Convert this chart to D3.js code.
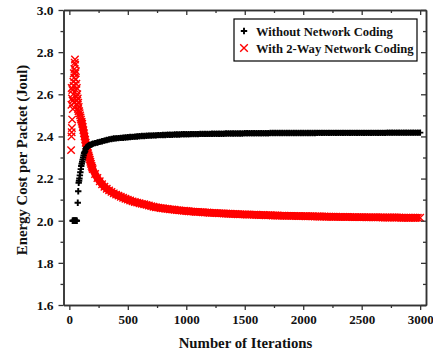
<!DOCTYPE html>
<html>
<head>
<meta charset="utf-8">
<script src="https://cdn.jsdelivr.net/npm/d3@7"></script>
<style>
  body { margin: 0; background: #fff; }
  text { font-family: "Liberation Serif", "Times New Roman", serif; font-weight: bold; }
</style>
</head>
<body>
<div id="chart"></div>
<script>
// Chart size
const width = 433;
const height = 356;

// Data
const xTicks = [0, 500, 1000, 1500, 2000, 2500, 3000];
const yTicks = [1.6, 1.8, 2.0, 2.2, 2.4, 2.6, 2.8, 3.0];

// Without network coding: first iterations as [iteration, cost]
const plainEarly = [
  [28, 2.0], [32, 2.0], [36, 2.0], [40, 2.0], [44, 2.0], [48, 2.0], [52, 2.0], [56, 2.0], [60, 2.0], [64, 2.0],
  [72, 2.085], [76, 2.14], [80, 2.18], [83, 2.19], [86, 2.20], [90, 2.215], [94, 2.23],
  [98, 2.245], [102, 2.26], [106, 2.27], [110, 2.28], [114, 2.29], [118, 2.30], [122, 2.31],
  [126, 2.32], [130, 2.325], [135, 2.33], [140, 2.34], [145, 2.345], [150, 2.35],
  [160, 2.355], [170, 2.358], [180, 2.36], [190, 2.362]
];

// With 2-way network coding: first iterations as [iteration, cost]
const codedEarly = [
  [15, 2.335], [18, 2.40], [20, 2.42], [22, 2.44], [24, 2.48], [18, 2.55], [22, 2.58],
  [26, 2.62], [20, 2.63], [28, 2.57], [30, 2.53], [32, 2.60], [34, 2.66], [36, 2.64],
  [38, 2.70], [40, 2.56], [42, 2.68], [44, 2.72], [46, 2.75], [48, 2.765], [50, 2.74],
  [52, 2.70], [54, 2.67], [56, 2.71], [58, 2.62], [60, 2.65], [62, 2.59], [64, 2.63],
  [66, 2.57], [68, 2.60], [70, 2.55], [72, 2.58], [74, 2.53], [76, 2.56], [78, 2.52],
  [80, 2.54], [84, 2.52], [88, 2.51], [92, 2.50], [96, 2.49], [100, 2.48], [105, 2.47],
  [110, 2.46], [115, 2.445], [120, 2.43], [125, 2.415], [130, 2.40], [135, 2.385],
  [140, 2.37], [145, 2.357], [150, 2.345], [155, 2.332], [160, 2.32], [165, 2.31],
  [170, 2.30], [175, 2.29], [180, 2.28], [185, 2.27], [190, 2.26], [195, 2.252]
];

// Later iterations, one reading every 20 iterations from 200 to 3000
const tailIterations = [
  200, 220, 240, 260, 280, 300, 320, 340, 360, 380, 400, 420, 440, 460, 480,
  500, 520, 540, 560, 580, 600, 620, 640, 660, 680, 700, 720, 740, 760, 780,
  800, 820, 840, 860, 880, 900, 920, 940, 960, 980, 1000,
  1020, 1040, 1060, 1080, 1100, 1120, 1140, 1160, 1180, 1200,
  1220, 1240, 1260, 1280, 1300, 1320, 1340, 1360, 1380, 1400,
  1420, 1440, 1460, 1480, 1500, 1520, 1540, 1560, 1580, 1600,
  1620, 1640, 1660, 1680, 1700, 1720, 1740, 1760, 1780, 1800,
  1820, 1840, 1860, 1880, 1900, 1920, 1940, 1960, 1980, 2000,
  2020, 2040, 2060, 2080, 2100, 2120, 2140, 2160, 2180, 2200,
  2220, 2240, 2260, 2280, 2300, 2320, 2340, 2360, 2380, 2400,
  2420, 2440, 2460, 2480, 2500, 2520, 2540, 2560, 2580, 2600,
  2620, 2640, 2660, 2680, 2700, 2720, 2740, 2760, 2780, 2800,
  2820, 2840, 2860, 2880, 2900, 2920, 2940, 2960, 2980, 3000
];

const plainTail = [
  2.365, 2.368, 2.371, 2.374, 2.377, 2.380, 2.383, 2.386, 2.388, 2.390, 2.391, 2.392, 2.393, 2.394, 2.395,
  2.396, 2.397, 2.398, 2.399, 2.400, 2.401, 2.402, 2.402, 2.403, 2.404, 2.404, 2.405, 2.405, 2.406, 2.406,
  2.407, 2.407, 2.408, 2.408, 2.408, 2.409, 2.409, 2.409, 2.410, 2.410, 2.410,
  2.410, 2.411, 2.411, 2.411, 2.411, 2.412, 2.412, 2.412, 2.412, 2.412,
  2.413, 2.413, 2.413, 2.413, 2.413, 2.413, 2.414, 2.414, 2.414, 2.414,
  2.414, 2.414, 2.414, 2.414, 2.415, 2.415, 2.415, 2.415, 2.415, 2.415,
  2.415, 2.415, 2.415, 2.415, 2.415, 2.416, 2.416, 2.416, 2.416, 2.416,
  2.416, 2.416, 2.416, 2.416, 2.416, 2.416, 2.416, 2.416, 2.416, 2.416,
  2.416, 2.416, 2.416, 2.416, 2.416, 2.417, 2.417, 2.417, 2.417, 2.417,
  2.417, 2.417, 2.417, 2.417, 2.417, 2.417, 2.417, 2.417, 2.417, 2.417,
  2.417, 2.417, 2.417, 2.417, 2.417, 2.417, 2.417, 2.417, 2.417, 2.417,
  2.417, 2.417, 2.417, 2.417, 2.417, 2.418, 2.418, 2.418, 2.418, 2.418,
  2.418, 2.418, 2.418, 2.418, 2.418, 2.418, 2.418, 2.418, 2.418, 2.418
];

const codedTail = [
  2.245, 2.222, 2.203, 2.187, 2.173, 2.161, 2.152, 2.144, 2.137, 2.130, 2.124, 2.119, 2.114, 2.109, 2.104,
  2.100, 2.096, 2.092, 2.089, 2.086, 2.083, 2.080, 2.078, 2.075, 2.072, 2.069, 2.066, 2.064, 2.062, 2.060,
  2.059, 2.057, 2.056, 2.054, 2.053, 2.052, 2.050, 2.049, 2.048, 2.047, 2.046,
  2.045, 2.044, 2.043, 2.042, 2.042, 2.041, 2.040, 2.039, 2.039, 2.038,
  2.037, 2.037, 2.036, 2.035, 2.035, 2.034, 2.034, 2.033, 2.033, 2.032,
  2.032, 2.031, 2.031, 2.030, 2.030, 2.029, 2.029, 2.029, 2.028, 2.028,
  2.027, 2.027, 2.027, 2.026, 2.026, 2.026, 2.025, 2.025, 2.025, 2.024,
  2.024, 2.024, 2.023, 2.023, 2.023, 2.023, 2.022, 2.022, 2.022, 2.022,
  2.021, 2.021, 2.021, 2.021, 2.020, 2.020, 2.020, 2.020, 2.020, 2.019,
  2.019, 2.019, 2.019, 2.019, 2.018, 2.018, 2.018, 2.018, 2.018, 2.018,
  2.017, 2.017, 2.017, 2.017, 2.017, 2.017, 2.016, 2.016, 2.016, 2.016,
  2.016, 2.016, 2.016, 2.015, 2.015, 2.015, 2.015, 2.015, 2.015, 2.015,
  2.015, 2.014, 2.014, 2.014, 2.014, 2.014, 2.014, 2.014, 2.014, 2.014
];

const seriesNames = ["Without Network Coding", "With 2-Way Network Coding"];

// Plot area
const plot = { left: 63.5, right: 426, top: 10, bottom: 305 };

const x = d3.scaleLinear().domain([-50, 3050]).range([plot.left, plot.right]);
const y = d3.scaleLinear().domain([1.6, 3.0]).range([plot.bottom, plot.top]);

const svg = d3.select("#chart")
  .append("svg")
  .attr("width", width)
  .attr("height", height);

const axisColor = "#333";

// Combine early points with the regular tail
const plainPoints = plainEarly.concat(tailIterations.map((it, i) => [it, plainTail[i]]));
const codedPoints = codedEarly.concat(tailIterations.map((it, i) => [it, codedTail[i]]));

// Marker paths
const plusPath = s => `M${-s},0H${s}M0,${-s}V${s}`;
const crossPath = s => `M${-s},${-s}L${s},${s}M${-s},${s}L${s},${-s}`;

// The markers are packed so tightly that they merge into a band;
// a thick line through the same points fills the gaps between them
const band = d3.line().x(d => x(d[0])).y(d => y(d[1])).curve(d3.curveMonotoneX);

svg.append("path")
  .datum(codedPoints.filter(d => d[0] >= 100))
  .attr("d", band)
  .attr("fill", "none")
  .attr("stroke", "#ff0000")
  .attr("stroke-width", 7.5)
  .attr("stroke-linejoin", "round");

svg.append("g")
  .selectAll("path")
  .data(codedPoints)
  .enter()
  .append("path")
  .attr("transform", d => `translate(${x(d[0])},${y(d[1])})`)
  .attr("d", crossPath(3.7))
  .attr("fill", "none")
  .attr("stroke", "#ff0000")
  .attr("stroke-width", 1.4);

svg.append("path")
  .datum(plainPoints.filter(d => d[0] >= 150))
  .attr("d", band)
  .attr("fill", "none")
  .attr("stroke", "#000")
  .attr("stroke-width", 5.5)
  .attr("stroke-linejoin", "round");

svg.append("g")
  .selectAll("path")
  .data(plainPoints)
  .enter()
  .append("path")
  .attr("transform", d => `translate(${x(d[0])},${y(d[1])})`)
  .attr("d", plusPath(3.2))
  .attr("fill", "none")
  .attr("stroke", "#000")
  .attr("stroke-width", 1.9);

// Axes: major ticks with labels, minor ticks between
const xMinor = d3.range(0, 3001, 250).filter(v => v % 500 !== 0);
const yMinor = d3.range(1.7, 3.0, 0.2);

function drawAxis(axis, transform, labels) {
  const g = svg.append("g").attr("transform", transform).call(axis);
  g.select(".domain").attr("stroke", axisColor).attr("stroke-width", 1.5);
  g.selectAll(".tick line").attr("stroke", axisColor).attr("stroke-width", 1.3);
  g.selectAll(".tick text")
    .attr("font-size", 13.5)
    .attr("fill", "#111");
  if (!labels) g.selectAll(".tick text").remove();
  return g;
}

// bottom
drawAxis(d3.axisBottom(x).tickValues(xTicks).tickSize(5).tickSizeOuter(0).tickPadding(5)
  .tickFormat(d3.format("d")), `translate(0,${plot.bottom})`, true)
  .selectAll(".tick text").attr("font-size", 13);
drawAxis(d3.axisBottom(x).tickValues(xMinor).tickSize(3).tickSizeOuter(0),
  `translate(0,${plot.bottom})`, false);
// top (ticks inward)
drawAxis(d3.axisBottom(x).tickValues(xTicks).tickSize(5).tickSizeOuter(0),
  `translate(0,${plot.top})`, false);
drawAxis(d3.axisBottom(x).tickValues(xMinor).tickSize(3).tickSizeOuter(0),
  `translate(0,${plot.top})`, false);
// left
drawAxis(d3.axisLeft(y).tickValues(yTicks).tickSize(5).tickSizeOuter(0).tickPadding(5)
  .tickFormat(d3.format(".1f")), `translate(${plot.left},0)`, true);
drawAxis(d3.axisLeft(y).tickValues(yMinor).tickSize(3).tickSizeOuter(0),
  `translate(${plot.left},0)`, false);
// right (ticks inward)
drawAxis(d3.axisLeft(y).tickValues(yTicks).tickSize(5).tickSizeOuter(0),
  `translate(${plot.right},0)`, false);
drawAxis(d3.axisLeft(y).tickValues(yMinor).tickSize(3).tickSizeOuter(0),
  `translate(${plot.right},0)`, false);

// Axis titles
svg.append("text")
  .attr("x", 245.5)
  .attr("y", 348)
  .attr("text-anchor", "middle")
  .attr("font-size", 14.8)
  .attr("fill", "#111")
  .text("Number of Iterations");

svg.append("text")
  .attr("transform", "translate(27,160) rotate(-90)")
  .attr("text-anchor", "middle")
  .attr("font-size", 14.8)
  .attr("fill", "#111")
  .text("Energy Cost per Packet (Joul)");

// Legend
const legend = svg.append("g").attr("transform", "translate(234,19)");
legend.append("rect")
  .attr("width", 183)
  .attr("height", 42)
  .attr("fill", "#fff")
  .attr("stroke", "#000")
  .attr("stroke-width", 1.2);

const legendMarks = [plusPath(3.2), crossPath(3.8)];
const legendColors = ["#000", "#ff0000"];
seriesNames.forEach((name, i) => {
  const row = legend.append("g").attr("transform", `translate(0,${12 + i * 17})`);
  row.append("path")
    .attr("transform", "translate(10,0)")
    .attr("d", legendMarks[i])
    .attr("fill", "none")
    .attr("stroke", legendColors[i])
    .attr("stroke-width", i === 0 ? 1.9 : 1.4);
  row.append("text")
    .attr("x", 22)
    .attr("y", 4.5)
    .attr("font-size", 12.6)
    .attr("fill", "#111")
    .text(name);
});
</script>
</body>
</html>
